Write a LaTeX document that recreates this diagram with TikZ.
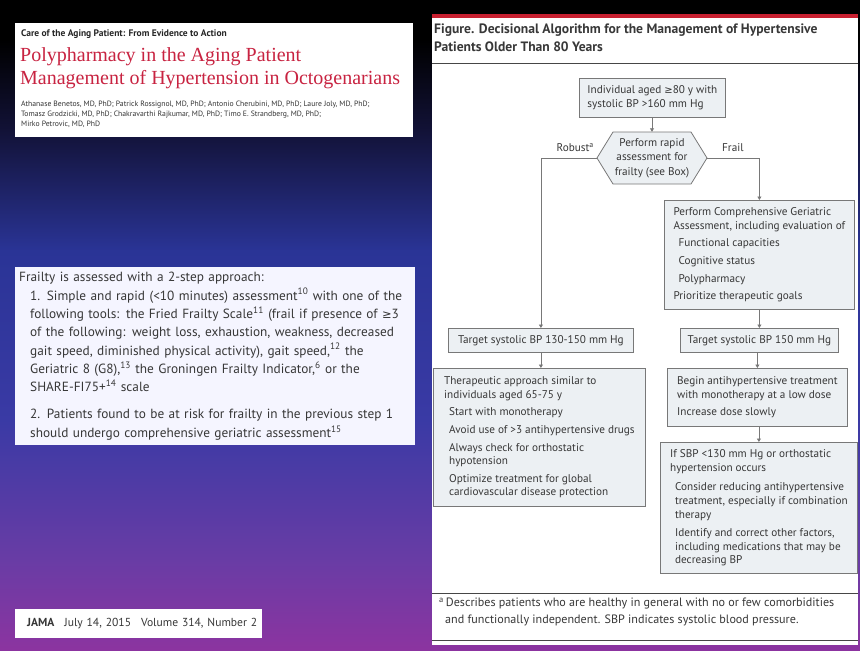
\documentclass[tikz,border=0pt]{standalone}
\usepackage{fontspec}
\setmainfont{PT Sans}
\newfontfamily\serifT{Liberation Serif}
\newfontfamily\symf{DejaVu Sans}
\usetikzlibrary{arrows.meta}
\definecolor{bgA}{RGB}{18,18,55}
\definecolor{bgB}{RGB}{42,52,150}
\definecolor{bgC}{RGB}{58,58,165}
\definecolor{bgD}{RGB}{105,60,165}
\definecolor{bgE}{RGB}{140,52,160}
\definecolor{jred}{RGB}{200,32,48}
\definecolor{ttlred}{RGB}{200,35,65}
\definecolor{txt}{RGB}{55,55,55}
\definecolor{boxfill}{RGB}{236,240,243}
\definecolor{boxline}{RGB}{120,120,120}
\definecolor{rulec}{RGB}{70,70,70}
\tikzset{
  fbox/.style={draw=boxline, fill=boxfill, line width=0.8pt, inner sep=0pt,
    font=\fontsize{11.2}{13.6}\selectfont, text=txt, align=left},
  cbox/.style={fbox, align=center},
  arr/.style={draw=boxline, line width=0.8pt, -{Triangle[width=4pt,length=3.5pt]}},
  lbl/.style={font=\fontsize{11.2}{13}\selectfont, text=txt, inner sep=0pt},
  wbox/.style={fill=white, inner sep=0pt, text=txt, align=left},
  ttext/.style={inner sep=0pt, anchor=base west},
}
\newcommand{\ind}{\hspace*{5pt}}
\begin{document}
\begin{tikzpicture}[x=1pt,y=-1pt]
\useasboundingbox (0,0) rectangle (860,651);
% background gradient
\fill[black] (0,0) rectangle (860,41);
\shade[top color=black, bottom color=bgA] (0,40) rectangle (860,131);
\shade[top color=bgA, bottom color=bgB] (0,130) rectangle (860,251);
\shade[top color=bgB, bottom color=bgC] (0,250) rectangle (860,421);
\shade[top color=bgC, bottom color=bgD] (0,420) rectangle (860,561);
\shade[top color=bgD, bottom color=bgE] (0,560) rectangle (860,651);

% ---------- left side ----------
\node[wbox, anchor=north west, minimum width=398, minimum height=114] (titlebox) at (15,23) {};
\node[ttext, font=\fontsize{9.5}{10}\selectfont\bfseries, text=black!85] (care) at (21,36)
 {Care of the Aging Patient: From Evidence to Action};
\node[ttext, font=\serifT\fontsize{20}{23}\selectfont, text=ttlred] (poly) at (20,61)
 {Polypharmacy in the Aging Patient};
\node[ttext, font=\serifT\fontsize{20}{23}\selectfont, text=ttlred] (mgmt) at (20,84)
 {Management of Hypertension in Octogenarians};
\node[ttext, font=\fontsize{7.7}{10}\selectfont, text=black!80] (auth1) at (21,106)
 {Athanase Benetos, MD, PhD; Patrick Rossignol, MD, PhD; Antonio Cherubini, MD, PhD; Laure Joly, MD, PhD;};
\node[ttext, font=\fontsize{7.7}{10}\selectfont, text=black!80] (auth2) at (21,116)
 {Tomasz Grodzicki, MD, PhD; Chakravarthi Rajkumar, MD, PhD; Timo E. Strandberg, MD, PhD;};
\node[ttext, font=\fontsize{7.7}{10}\selectfont, text=black!80] (auth3) at (21,126)
 {Mirko Petrovic, MD, PhD};

\node[wbox, fill=white!96!blue, anchor=north west, minimum width=398, minimum height=178, text width=392, inner xsep=4pt,
  font=\fontsize{13.3}{18.3}\selectfont] (frail) at (15,267)
 {Frailty is assessed with a 2-step approach:\\
  \hspace*{11pt}1. Simple and rapid (<10 minutes) assessment\textsuperscript{10} with one of the\\
  \hspace*{11pt}following tools: the Fried Frailty Scale\textsuperscript{11} (frail if presence of {\symf\fontsize{11.5}{12}\selectfont≥}3\\
  \hspace*{11pt}of the following: weight loss, exhaustion, weakness, decreased\\
  \hspace*{11pt}gait speed, diminished physical activity), gait speed,\textsuperscript{12} the\\
  \hspace*{11pt}Geriatric 8 (G8),\textsuperscript{13} the Groningen Frailty Indicator,\textsuperscript{6} or the\\
  \hspace*{11pt}SHARE-FI75+\textsuperscript{14} scale\\[9pt]
  \hspace*{11pt}2. Patients found to be at risk for frailty in the previous step 1\\
  \hspace*{11pt}should undergo comprehensive geriatric assessment\textsuperscript{15}};

\node[wbox, anchor=north west, minimum width=247, minimum height=29, text width=239, inner xsep=4pt,
  font=\fontsize{11.6}{12}\selectfont] (jama) at (15,609)
 {\hspace*{8pt}\textbf{JAMA}\hspace{10pt}July 14, 2015\hspace{10pt}Volume 314, Number 2};

% ---------- right panel ----------
\fill[white] (432,14) rectangle (858,645);
\fill[jred] (432,14) rectangle (858,18);
\node[anchor=north west, inner sep=0pt, align=left, text=black!78, font=\fontsize{13.6}{18}\selectfont\bfseries] (figtitle) at (434,24)
 {Figure. Decisional Algorithm for the Management of Hypertensive\\Patients Older Than 80 Years};
\draw[rulec, line width=1pt] (432,63) -- (858,63);
\draw[rulec, line width=1pt] (432,593) -- (858,593);
\draw[rulec, line width=1pt] (432,640) -- (858,640);
\node[anchor=north west, inner sep=0pt, align=left, text=txt, font=\fontsize{12.1}{17}\selectfont] (foot) at (439,598)
 {\textsuperscript{a}\,Describes patients who are healthy in general with no or few comorbidities\\
  \hspace*{6pt}and functionally independent. SBP indicates systolic blood pressure.};

% flowchart
\node[fbox, anchor=north west, minimum width=146, minimum height=39] (start) at (579,78)
 {Individual aged {\symf\fontsize{10}{10}\selectfont≥}80 y with\\systolic BP >160 mm Hg};

\filldraw[fill=boxfill, draw=boxline, line width=0.8pt]
  (597,158) -- (613,132) -- (691,132) -- (707,158) -- (691,184) -- (613,184) -- cycle;
\node[inner sep=0pt, minimum width=110, minimum height=52, align=center, text=txt,
  font=\fontsize{11.2}{14.5}\selectfont] (hex) at (652,158)
 {Perform rapid\\assessment for\\frailty (see Box)};

\node[lbl, anchor=east] (robust) at (594,148) {Robust\textsuperscript{a}};
\node[lbl, anchor=west] (frl) at (722,148) {Frail};

\node[fbox, anchor=north west, minimum width=190, minimum height=109] (cga) at (664,200)
 {Perform Comprehensive Geriatric\\Assessment, including evaluation of\\[4pt]
  \ind Functional capacities\\[4pt]\ind Cognitive status\\[4pt]\ind Polypharmacy\\[4pt]
  Prioritize therapeutic goals};

\node[cbox, anchor=north west, minimum width=185, minimum height=24] (tgtL) at (448,328)
 {Target systolic BP 130-150 mm Hg};
\node[cbox, anchor=north west, minimum width=158, minimum height=24] (tgtR) at (680,328)
 {Target systolic BP 150 mm Hg};

\node[fbox, anchor=north west, minimum width=212, minimum height=138] (therL) at (433,368)
 {Therapeutic approach similar to\\individuals aged 65-75 y\\[4pt]
  \ind Start with monotherapy\\[4pt]
  \ind Avoid use of >3 antihypertensive drugs\\[4pt]
  \ind Always check for orthostatic\\\ind hypotension\\[4pt]
  \ind Optimize treatment for global\\\ind cardiovascular disease protection};

\node[fbox, anchor=north west, minimum width=180, minimum height=58] (beginR) at (667,368)
 {Begin antihypertensive treatment\\with monotherapy at a low dose\\[4pt]
  Increase dose slowly};

\node[fbox, anchor=north west, minimum width=197, minimum height=131] (sbp) at (660,442)
 {If SBP <130 mm Hg or orthostatic\\hypertension occurs\\[6pt]
  \ind Consider reducing antihypertensive\\\ind treatment, especially if combination\\\ind therapy\\[5pt]
  \ind Identify and correct other factors,\\\ind including medications that may be\\\ind decreasing BP};

% connectors
\draw[arr] (start.south -| hex.north) -- (hex.north);
\draw[arr] (hex.west) -| (tgtL.north);
\draw[arr] (hex.east) -| (cga.north);
\draw[arr] (cga.south -| tgtR.north) -- (tgtR.north);
\draw[arr] (tgtL.south) -- (tgtL.south |- therL.north);
\draw[arr] (tgtR.south -| beginR.north) -- (beginR.north);
\draw[arr] (beginR.south -| sbp.north) -- (sbp.north);
\end{tikzpicture}
\end{document}
